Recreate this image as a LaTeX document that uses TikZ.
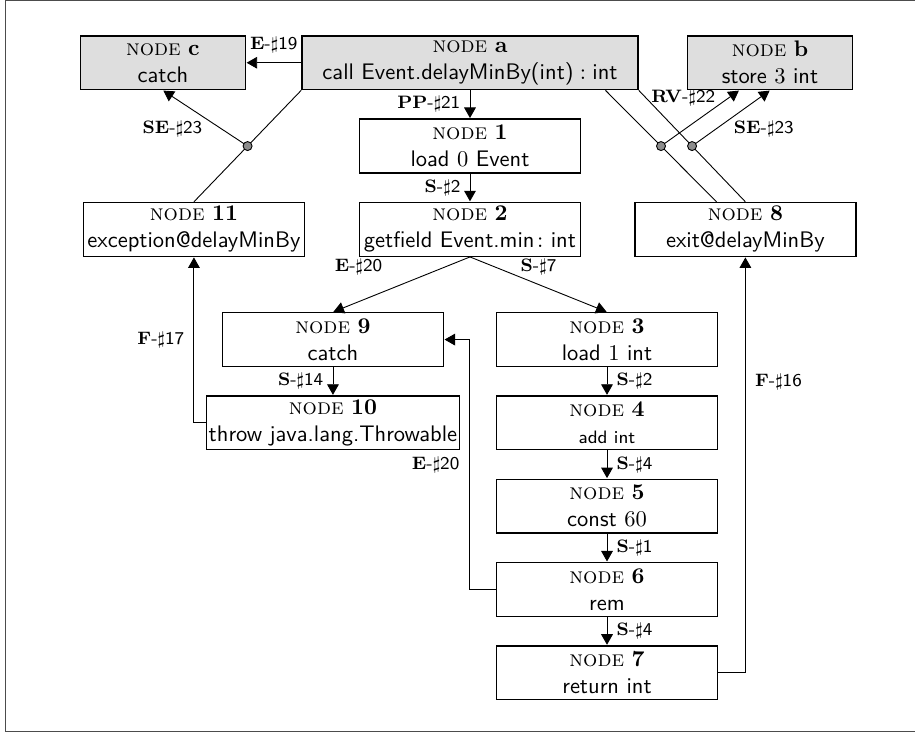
\documentclass[tikz,border=0pt]{standalone}
\usepackage{amsmath}
\usepackage{amssymb}
\usepackage{tikz}
\usetikzlibrary{positioning, arrows.meta, calc}
\newcommand{\NodeBox}[2]{\textsc{node} $\mathbf{#1}$\\\textsf{#2}}
\newcommand{\EdgeLbl}[2]{\textsf{$\mathbf{#1}$-$\sharp$#2}}
\tikzset{
    block/.style={draw, semithick, align=center, minimum width=3.45cm, minimum height=0.84cm, inner sep=1pt},
    callbox/.style={block, fill=black!13},
    hub/.style={circle, draw, thin, fill=black!45, inner sep=0pt, minimum size=4pt},
    lbl/.style={font=\footnotesize, inner sep=4pt},
}

\begin{document}
\begin{tikzpicture}
    \tikzset{
      >={Triangle[length=5pt,width=5.5pt]},
      semithick,
      node distance=0.44cm
    }

    % call site and its companions
    \node[callbox, minimum width=5.25cm] (a) {\NodeBox{a}{call Event.delayMinBy(int)\;$:$\;int}};
    \node[callbox, minimum width=2.58cm, left=0.86cm of a] (c) {\NodeBox{c}{catch}};
    \node[callbox, minimum width=2.58cm, right=0.75cm of a] (b) {\NodeBox{b}{store $3$ int}};

    % callee body
    \node[block, below=of a] (n1) {\NodeBox{1}{load $0$ Event}};
    \node[block, below=of n1] (n2) {\NodeBox{2}{getfield Event.min$\colon$int}};
    \node[block, left=0.84cm of n2] (n11) {\NodeBox{11}{exception@delayMinBy}};
    \node[block, right=0.83cm of n2] (n8) {\NodeBox{8}{exit@delayMinBy}};

    \node[block, below=0.86cm of n2, xshift=-2.14cm] (n9) {\NodeBox{9}{catch}};
    \node[block, below=of n9] (n10) {\NodeBox{10}{throw java.lang.Throwable}};

    \node[block, below=0.86cm of n2, xshift=2.14cm] (n3) {\NodeBox{3}{load $1$ int}};
    \node[block, below=of n3] (n4) {\textsc{node} $\mathbf{4}$\\\textsf{\footnotesize add int}};
    \node[block, below=of n4] (n5) {\NodeBox{5}{const $60$}};
    \node[block, below=of n5] (n6) {\NodeBox{6}{rem}};
    \node[block, below=of n6] (n7) {\NodeBox{7}{return int}};

    \draw[->] (a) -- (c) node[lbl, midway, above] {\EdgeLbl{E}{19}};
    \draw[->] (a) -- (n1) node[lbl, midway, left] {\EdgeLbl{PP}{21}};
    \draw[->] (n1) -- (n2) node[lbl, midway, left] {\EdgeLbl{S}{2}};
    \draw[->] (n2.south) -- (n9.north) node[lbl, midway, above left, xshift=-0.15cm] {\EdgeLbl{E}{20}};
    \draw[->] (n2.south) -- (n3.north) node[lbl, midway, above] {\EdgeLbl{S}{7}};
    \draw[->] (n9) -- (n10) node[lbl, midway, left] {\EdgeLbl{S}{14}};
    \draw[->] (n3) -- (n4) node[lbl, midway, right] {\EdgeLbl{S}{2}};
    \draw[->] (n4) -- (n5) node[lbl, midway, right] {\EdgeLbl{S}{4}};
    \draw[->] (n5) -- (n6) node[lbl, midway, right] {\EdgeLbl{S}{1}};
    \draw[->] (n6) -- (n7) node[lbl, midway, right] {\EdgeLbl{S}{4}};
    \draw[->] (n10.west) -| (n11.south) node[lbl, pos=0.75, left] {\EdgeLbl{F}{17}};
    \draw[->] (n7.east) -| (n8.south) node[lbl, pos=0.85, right] {\EdgeLbl{F}{16}};
    \draw[->] (n6.west) -- ++(-0.42,0) |- (n9.east) node[lbl, pos=0.25, left] {\EdgeLbl{E}{20}};

    % hyperedges
    \coordinate (h11) at ($(a.south west)!0.5!(n11.north)$);
    \coordinate (ar1) at ([xshift=-0.52cm]a.south east);
    \coordinate (e81) at ([xshift=-0.45cm]n8.north);
    \coordinate (h8a) at ($(ar1)!0.5!(e81)$);
    \coordinate (h8b) at ($(a.south east)!0.5!(n8.north)$);
    \coordinate (b1) at ([xshift=-0.48cm]b.south);

    \draw (a.south west) -- (n11.north);
    \draw[->] (h11) -- (c.south) node[lbl, midway, below left, inner sep=1pt] {\EdgeLbl{SE}{23}};
    \draw (ar1) -- (e81);
    \draw (a.south east) -- (n8.north);
    \draw[->] (h8a) -- (b1) node[lbl, pos=0.7, above left, inner sep=0pt] {\EdgeLbl{RV}{22}};
    \draw[->] (h8b) -- (b.south) node[lbl, midway, below right, inner sep=1pt] {\EdgeLbl{SE}{23}};
    \node[hub] at (h11) {};
    \node[hub] at (h8a) {};
    \node[hub] at (h8b) {};

    % frame
    \useasboundingbox ($(a.center)+(-7.34,0.98)$) rectangle ($(a.center)+(6.95,-10.47)$);
    \draw[black!70, thin] ($(a.center)+(-7.25,0.97)$) rectangle ($(a.center)+(7.3,-10.44)$);
  \end{tikzpicture}
\end{document}
